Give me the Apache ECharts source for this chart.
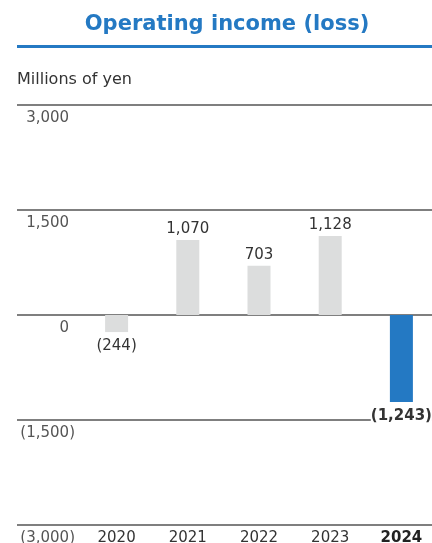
<!DOCTYPE html>
<html>
<head>
<meta charset="utf-8">
<script src="https://cdn.jsdelivr.net/npm/echarts@6/dist/echarts.min.js"></script>
<style>html,body{margin:0;padding:0;background:#fff}#c{width:432px;height:543px}</style>
</head>
<body>
<div id="c"></div>
<script>
const years = ['2020', '2021', '2022', '2023', '2024'];
const income = [-244, 1070, 703, 1128, -1243];
const yTicks = [-3000, -1500, 0, 1500, 3000];
const titleText = 'Operating income (loss)';
const unitText = 'Millions of yen';

const FONT = '"DejaVu Sans", Verdana, sans-serif';
function fmt(v) {
  const s = Math.abs(v).toLocaleString('en-US');
  return v < 0 ? '(' + s + ')' : s;
}
const chart = echarts.init(document.getElementById('c'), null, {renderer: 'canvas'});
const yMin = yTicks[0], yMax = yTicks[yTicks.length - 1], yStep = yTicks[1] - yTicks[0];

chart.setOption({
  animation: false,
  textStyle: {fontFamily: FONT},
  graphic: [
    {type: 'text', x: 227, y: 25, style: {text: titleText, fill: '#2479c3', font: 'bold 21px ' + FONT, textAlign: 'center', textVerticalAlign: 'middle'}},
    {type: 'rect', shape: {x: 17, y: 45, width: 415, height: 3}, style: {fill: '#2479c3'}},
    {type: 'text', x: 17, y: 80, style: {text: unitText, fill: '#333', font: '16px ' + FONT, textAlign: 'left', textVerticalAlign: 'middle'}}
  ],
  grid: [
    {left: 17, right: 0, top: 105, bottom: 18, outerBoundsMode: 'none', containLabel: false},
    {left: 81, width: 356, top: 105, bottom: 18, outerBoundsMode: 'none', containLabel: false}
  ],
  xAxis: [
    {gridIndex: 0, type: 'category', data: years, show: false},
    {gridIndex: 1, type: 'category', data: years,
     axisLine: {show: false}, axisTick: {show: false},
     axisLabel: {interval: 0, margin: 6, fontSize: 15, color: '#333', fontFamily: FONT,
       formatter: function (v) { return v === '2024' ? '{b|' + v + '}' : v; },
       rich: {b: {fontWeight: 'bold', fontSize: 15, color: '#222', fontFamily: FONT}}}}
  ],
  yAxis: [
    {gridIndex: 0, type: 'value', min: yMin, max: yMax, interval: yStep,
     axisLine: {show: false}, axisTick: {show: false}, axisLabel: {show: false},
     splitLine: {show: true, lineStyle: {color: '#555', width: 1.5}}},
    {gridIndex: 1, type: 'value', min: yMin, max: yMax, interval: yStep,
     axisLine: {show: false}, axisTick: {show: false}, splitLine: {show: false},
     axisLabel: {margin: 6, fontSize: 15, color: '#555', fontFamily: FONT, align: 'right', verticalAlign: 'top',
       padding: [6, 0, 0, 0],
       formatter: function (v) { return v < 0 ? fmt(v) : '{n|' + fmt(v) + '}{h|)}'; },
       rich: {n: {fontSize: 15, color: '#555', fontFamily: FONT}, h: {fontSize: 15, color: 'rgba(0,0,0,0)', fontFamily: FONT}}}}
  ],
  series: [
    {type: 'bar', xAxisIndex: 0, yAxisIndex: 0, data: [], silent: true},
    {type: 'bar', xAxisIndex: 1, yAxisIndex: 1, barWidth: 23,
     data: income.map(function (v, i) {
       const last = i === income.length - 1;
       return {
         value: v,
         itemStyle: {color: last ? '#2479c3' : '#dcdddd'},
         label: {show: true, position: v < 0 ? 'bottom' : 'top', distance: v < 0 ? 7 : 3,
           fontSize: 15, fontFamily: FONT, color: '#333',
           fontWeight: last ? 'bold' : 'normal',
           backgroundColor: last ? '#fff' : 'transparent',
           formatter: function (p) { return fmt(p.value); }}
       };
     })}
  ]
});
</script>
</body>
</html>
